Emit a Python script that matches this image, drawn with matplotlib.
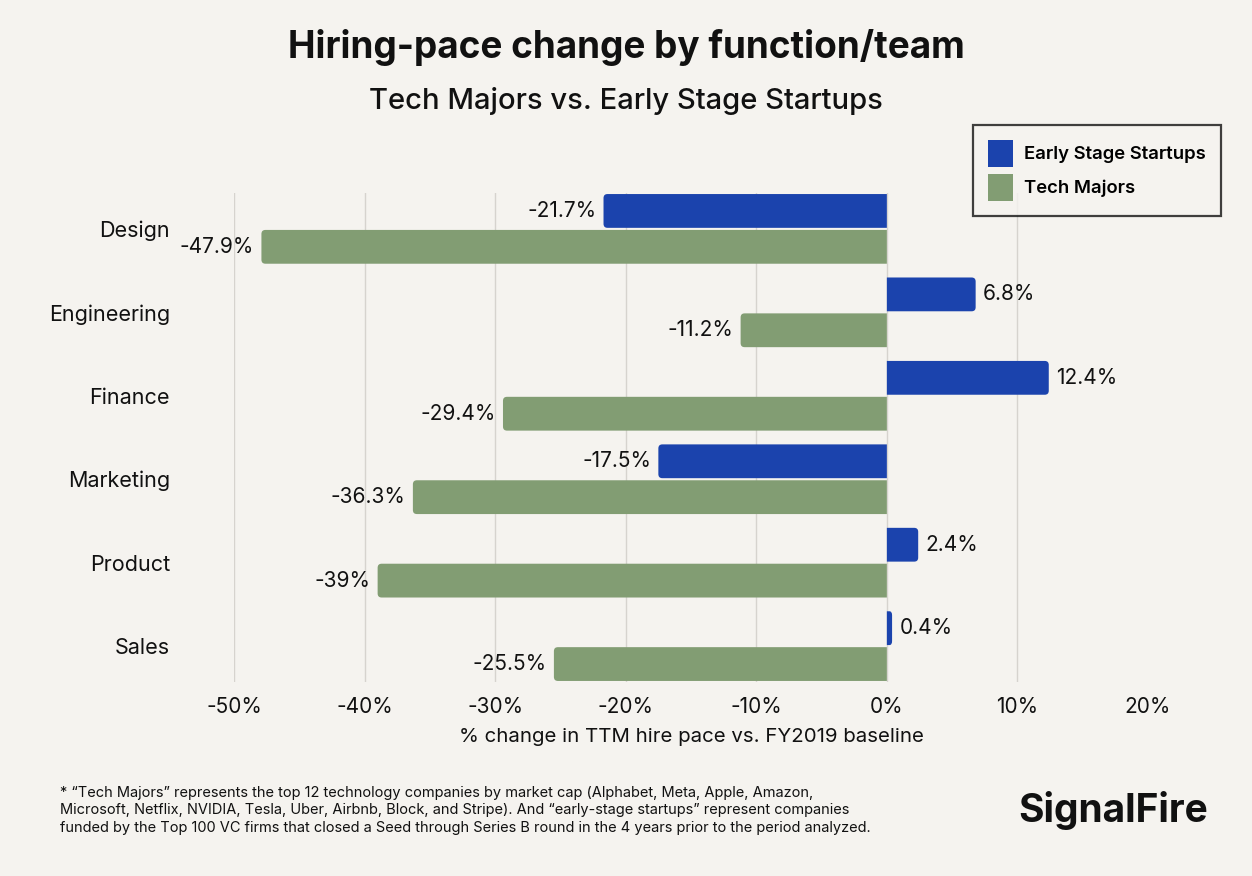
import numpy as np
import matplotlib
matplotlib.use('Agg')
import matplotlib.pyplot as plt
from matplotlib.patches import PathPatch, Patch
from matplotlib.path import Path

categories = ['Design', 'Engineering', 'Finance', 'Marketing', 'Product', 'Sales']
startups = [-21.7, 6.8, 12.4, -17.5, 2.4, 0.4]
majors = [-47.9, -11.2, -29.4, -36.3, -39.0, -25.5]
xticks = [-50, -40, -30, -20, -10, 0, 10, 20]

BG = '#f5f3ef'
BLUE = '#1b43ad'
GREEN = '#829d73'

plt.rcParams['font.family'] = ['Inter', 'DejaVu Sans']

fig = plt.figure(figsize=(12.52, 8.76), dpi=100, facecolor=BG)
ax = fig.add_axes([234 / 1252, 1 - 682 / 876, (1148 - 234) / 1252, (682 - 193) / 876])
ax.set_facecolor(BG)

y = np.arange(len(categories))
h = 0.405
b1 = ax.barh(y - 0.215, startups, height=h, color=BLUE, zorder=3)
b2 = ax.barh(y + 0.215, majors, height=h, color=GREEN, zorder=3)

ax.set_xlim(-50, 20)
ax.set_ylim(5.43, -0.43)


def rounded_bar(r, rx, ry):
    # bar path with the outer end rounded, zero end square
    x0, y0, w, hh = r.get_x(), r.get_y(), r.get_width(), r.get_height()
    s = 1 if w >= 0 else -1
    rx = min(rx, abs(w) / 2)
    y1 = y0 + hh
    verts = [(x0, y0), (x0 + w - s * rx, y0), (x0 + w, y0), (x0 + w, y0 + ry),
             (x0 + w, y1 - ry), (x0 + w, y1), (x0 + w - s * rx, y1), (x0, y1), (x0, y0)]
    codes = [Path.MOVETO, Path.LINETO, Path.CURVE3, Path.CURVE3,
             Path.LINETO, Path.CURVE3, Path.CURVE3, Path.LINETO, Path.CLOSEPOLY]
    return Path(verts, codes)


px_x = 914 / 70.0
px_y = 489 / 5.86
for bars in (b1, b2):
    for r in bars:
        p = PathPatch(rounded_bar(r, 4 / px_x, 4 / px_y), facecolor=r.get_facecolor(),
                      edgecolor='none', linewidth=0, zorder=3)
        ax.add_patch(p)
        r.set_visible(False)

for vals, yy in ((startups, y - 0.215), (majors, y + 0.215)):
    for v, yc in zip(vals, yy):
        lab = '%g%%' % v
        if v >= 0:
            ax.text(v + 0.55, yc, lab, ha='left', va='center', fontsize=15, color='#111111')
        else:
            ax.text(v - 0.55, yc, lab, ha='right', va='center', fontsize=15, color='#111111')

ax.set_xticks(xticks)
ax.set_xticklabels(['%d%%' % t for t in xticks], fontsize=15, color='#111111')
ax.set_yticks(y)
ax.set_yticklabels(categories, fontsize=15.5, color='#111111')
ax.tick_params(axis='x', length=0, pad=11)
ax.tick_params(axis='y', length=0, pad=46)
ax.grid(axis='x', color='#d6d3ce', linewidth=1.0, zorder=0)
ax.get_xgridlines()[-1].set_visible(False)
for s in ax.spines.values():
    s.set_visible(False)
ax.set_xlabel('% change in TTM hire pace vs. FY2019 baseline', fontsize=14.7, color='#111111', labelpad=8)

fig.text(0.5, 1 - 48 / 876, 'Hiring-pace change by function/team', ha='center', va='center',
         fontsize=26.6, fontweight='bold', color='#111111')
fig.text(0.5, 1 - 101 / 876, 'Tech Majors vs. Early Stage Startups', ha='center', va='center',
         fontsize=21, fontweight='medium', color='#111111')

handles = [Patch(facecolor=BLUE, label='Early Stage Startups'),
           Patch(facecolor=GREEN, label='Tech Majors')]
leg = fig.legend(handles=handles, loc='upper right', bbox_to_anchor=(1221 / 1252, 1 - 125 / 876),
                 fontsize=13.3, frameon=True, fancybox=False, edgecolor='#111111',
                 facecolor=BG, handlelength=1.4, handleheight=1.9, borderpad=0.8,
                 labelspacing=0.35, handletextpad=0.6, borderaxespad=0)
leg.get_frame().set_linewidth(1.6)
for t in leg.get_texts():
    t.set_fontweight('semibold')

foot = ('* \u201cTech Majors\u201d represents the top 12 technology companies by market cap (Alphabet, Meta, Apple, Amazon,\n'
        'Microsoft, Netflix, NVIDIA, Tesla, Uber, Airbnb, Block, and Stripe). And \u201cearly-stage startups\u201d represent companies\n'
        'funded by the Top 100 VC firms that closed a Seed through Series B round in the 4 years prior to the period analyzed.')
fig.text(60 / 1252, 1 - 786 / 876, foot, ha='left', va='top', fontsize=10.5, color='#111111', linespacing=1.3)

fig.text(1208 / 1252, 1 - 811 / 876, 'SignalFire', ha='right', va='center', fontsize=28,
         fontweight='bold', color='#111111')

fig.savefig('out.png', facecolor=BG)
